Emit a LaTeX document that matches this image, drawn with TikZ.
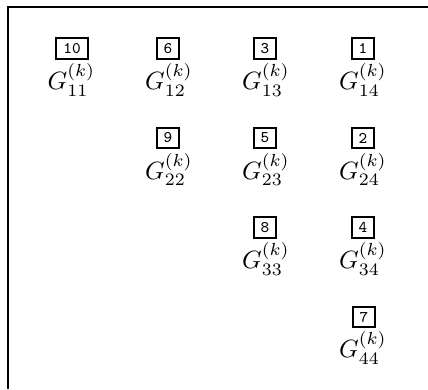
\documentclass[tikz,border=0pt]{standalone}
\begin{document}
\begin{tikzpicture}[x=0.4pt,y=-0.4pt,
  numbox/.style={draw,line width=0.8pt,minimum width=8.2pt,minimum height=8.2pt,
    inner xsep=2.8pt,inner ysep=1pt,font=\fontsize{6.5}{7}\selectfont\ttfamily},
  glabel/.style={inner sep=0pt,font=\normalsize}]
\useasboundingbox (0,0) rectangle (428,389);
\draw[line width=1.1pt] (428,7) -- (8,7) -- (8,389);
% row 1
\node[numbox] (b10) at (72,48.5) {10};
\node[glabel] (g11) at (71.5,80) {$G^{(k)}_{11}$};
\node[numbox] (b6) at (168,48.5) {6};
\node[glabel] (g12) at (169,80) {$G^{(k)}_{12}$};
\node[numbox] (b3) at (265,48.5) {3};
\node[glabel] (g13) at (266,80) {$G^{(k)}_{13}$};
\node[numbox] (b1) at (363,48.5) {1};
\node[glabel] (g14) at (363,80) {$G^{(k)}_{14}$};
% row 2
\node[numbox] (b9) at (168,138) {9};
\node[glabel] (g22) at (169,169.5) {$G^{(k)}_{22}$};
\node[numbox] (b5) at (265,138) {5};
\node[glabel] (g23) at (266,169.5) {$G^{(k)}_{23}$};
\node[numbox] (b2) at (363,138) {2};
\node[glabel] (g24) at (363,169.5) {$G^{(k)}_{24}$};
% row 3
\node[numbox] (b8) at (265,227.5) {8};
\node[glabel] (g33) at (266,259) {$G^{(k)}_{33}$};
\node[numbox] (b4) at (363,227.5) {4};
\node[glabel] (g34) at (363,259) {$G^{(k)}_{34}$};
% row 4
\node[numbox] (b7) at (364,317) {7};
\node[glabel] (g44) at (363,348) {$G^{(k)}_{44}$};
\end{tikzpicture}
\end{document}
